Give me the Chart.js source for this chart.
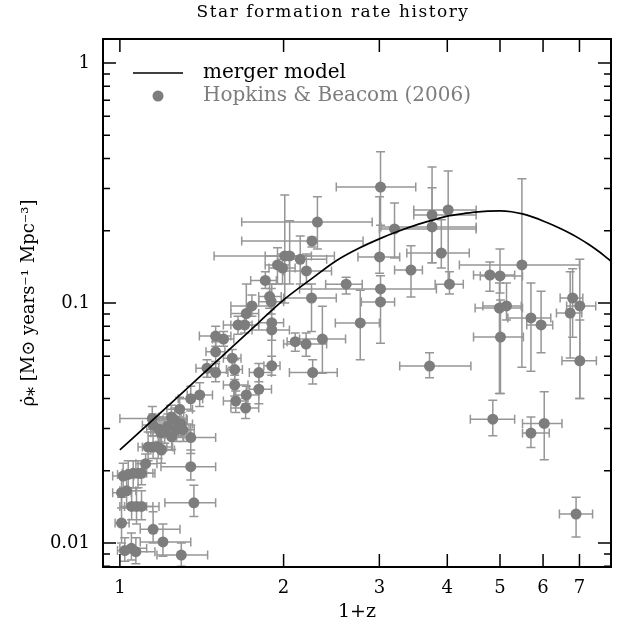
<!DOCTYPE html>
<html><head><meta charset="utf-8">
<script src="https://cdn.jsdelivr.net/npm/chart.js@4.4.1/dist/chart.umd.min.js"></script>
<style>html,body{margin:0;padding:0;background:#fff}</style>
</head><body>
<canvas id="c" width="627" height="631"></canvas>
<script>
// ---- model curve (merger model) ----
const modelX = [1, 1.2, 1.4, 1.6, 1.8, 2.0, 2.25, 2.5, 2.75, 3.0, 3.25, 3.5, 3.75, 4.0, 4.25, 4.5, 4.75, 5.0,
  5.25, 5.5, 5.75, 6.0, 6.25, 6.5, 6.75, 7.0, 7.25, 7.5, 7.75, 8.0];
const modelY = [0.0244, 0.0356, 0.0491, 0.0649, 0.0829, 0.103, 0.126, 0.150, 0.169, 0.185, 0.199, 0.211, 0.221, 0.230, 0.235, 0.239, 0.2412, 0.242,
  0.2400, 0.2350, 0.2278, 0.2197, 0.2114, 0.2028, 0.1942, 0.1854, 0.1765, 0.1675, 0.1584, 0.1491];

// ---- Hopkins & Beacom (2006) compilation: 1+z, SFR density, and error ranges ----
const z1 = [1.007,1.021,1.05,1.07,1.151,1.20,1.297,1.368,1.35,1.35,
  1.007,1.029,1.051,1.073,1.096,1.014,1.036,1.058,1.080,1.096,
  1.115,1.127,1.151,1.176,1.192,1.147,1.15,1.18,1.19,1.209,
  1.245,1.225,1.261,1.244,1.272,1.296,1.306,1.288,1.35,1.402,
  1.446,1.500,1.500,1.609,1.626,1.626,1.708,1.633,1.703,1.500,
  1.551,1.649,1.696,1.708,1.749,1.801,1.801,1.902,1.902,1.902,
  2.101,1.898,1.885,1.851,1.949,1.991,2.01,2.052,2.146,2.203,
  2.308,2.255,2.200,2.251,2.357,2.262,2.607,2.767,3.015,3.003,
  3.015,3.015,3.199,3.43,3.75,3.75,4.015,3.90,4.037,3.71,
  4.79,5.0,5.486,4.988,5.14,5.01,5.70,5.95,6.80,7.01,
  6.73,7.01,4.85,5.70,6.03,6.90];
const sfr = [0.0121,0.0093,0.0095,0.0092,0.0114,0.0101,0.0089,0.0147,0.0208,0.0275,
  0.0162,0.0165,0.0142,0.0142,0.0142,0.0190,0.0193,0.0195,0.0195,0.0195,
  0.0214,0.0251,0.0251,0.0251,0.0244,0.0330,0.0310,0.0298,0.0288,0.0291,
  0.0277,0.0307,0.0326,0.0335,0.0296,0.0313,0.0296,0.0361,0.0399,0.0414,
  0.0535,0.0513,0.0626,0.0589,0.0528,0.0455,0.0414,0.0390,0.0365,0.0728,
  0.0707,0.0810,0.0810,0.0904,0.0972,0.0513,0.0437,0.0827,0.0772,0.0547,
  0.0690,0.1013,0.1064,0.1242,0.1440,0.1399,0.1570,0.1570,0.1520,0.1360,
  0.2173,0.1812,0.0674,0.1049,0.0707,0.0513,0.1198,0.0826,0.3041,0.1555,
  0.1144,0.1010,0.2034,0.1372,0.2326,0.2075,0.2441,0.1615,0.1198,0.0546,
  0.1308,0.1297,0.1440,0.0953,0.0972,0.0721,0.0866,0.0810,0.1049,0.0972,
  0.0908,0.0574,0.0328,0.0287,0.0315,0.0132];
const xLo = [0.98,0.99,1.0,1.02,1.09,1.09,1.17,1.21,1.19,1.19,
  0.97,1.00,1.00,1.02,1.04,0.97,0.99,1.01,1.03,1.05,
  1.07,1.08,1.10,1.12,1.14,1.00,1.10,1.12,1.14,1.15,
  1.18,1.17,1.20,1.18,1.21,1.23,1.24,1.22,1.28,1.33,
  1.38,1.45,1.44,1.55,1.57,1.55,1.62,1.55,1.60,1.40,
  1.48,1.55,1.60,1.60,1.60,1.73,1.73,1.80,1.75,1.84,
  2.03,1.80,1.80,1.74,1.85,1.88,1.85,1.49,1.95,2.00,
  1.675,1.675,2.00,2.00,2.14,2.05,2.39,2.49,2.50,2.74,
  2.14,2.78,3.00,3.20,3.47,3.02,3.47,3.37,3.80,3.27,
  4.47,4.60,4.21,4.50,4.65,4.47,5.17,5.60,6.45,6.63,
  6.35,6.50,4.41,5.50,5.50,6.43];
const xHi = [1.04,1.07,1.12,1.16,1.29,1.35,1.45,1.50,1.50,1.50,
  1.05,1.07,1.12,1.15,1.18,1.06,1.09,1.12,1.15,1.16,
  1.17,1.20,1.22,1.25,1.26,1.325,1.22,1.25,1.25,1.28,
  1.31,1.29,1.33,1.31,1.34,1.36,1.37,1.36,1.42,1.48,
  1.52,1.58,1.56,1.67,1.68,1.72,1.80,1.72,1.80,1.60,
  1.62,1.75,1.80,1.80,1.92,1.90,1.90,2.00,2.05,1.97,
  2.20,2.00,1.98,1.94,2.05,2.10,2.25,2.48,2.40,2.45,
  2.91,2.80,2.40,2.50,2.60,2.51,2.79,3.00,3.50,3.27,
  3.82,3.20,4.52,3.60,4.52,4.52,4.52,4.39,4.28,4.42,
  5.32,5.50,7.00,5.50,5.47,5.52,6.20,6.25,7.10,7.50,
  7.07,7.52,5.32,6.16,6.50,7.40];
const yLo = [0.0100,0.0084,0.0085,0.0082,0.0100,0.0088,0.0080,0.0129,0.0183,0.0236,
  0.0140,0.0140,0.0125,0.0120,0.0125,0.0165,0.0170,0.0170,0.0170,0.0175,
  0.0195,0.0220,0.0225,0.0225,0.0215,0.0290,0.0280,0.0265,0.0255,0.0260,
  0.0245,0.0275,0.0290,0.0300,0.0265,0.0280,0.0265,0.0320,0.0355,0.0370,
  0.0490,0.0470,0.0570,0.0540,0.0480,0.0410,0.0380,0.0350,0.0330,0.0660,
  0.0660,0.0740,0.0750,0.0830,0.0880,0.0470,0.0380,0.0560,0.0700,0.0500,
  0.0630,0.0900,0.0950,0.1150,0.1200,0.1200,0.1000,0.1200,0.1200,0.1200,
  0.1680,0.1710,0.0600,0.0760,0.0510,0.0460,0.1090,0.0580,0.2110,0.1330,
  0.1000,0.0680,0.1540,0.1060,0.1470,0.1470,0.1190,0.1400,0.1090,0.0488,
  0.1120,0.1100,0.0540,0.0420,0.0850,0.0420,0.0520,0.0620,0.0720,0.0400,
  0.0590,0.0400,0.0280,0.0250,0.0222,0.0106];
const yHi = [0.0155,0.0105,0.0110,0.0105,0.0135,0.0120,0.0100,0.0174,0.0244,0.0310,
  0.0190,0.0195,0.0165,0.0170,0.0165,0.0215,0.0220,0.0220,0.0220,0.0215,
  0.0235,0.0290,0.0280,0.0280,0.0275,0.0370,0.0345,0.0335,0.0325,0.0330,
  0.0315,0.0345,0.0365,0.0375,0.0330,0.0350,0.0330,0.0405,0.0450,0.0465,
  0.0580,0.0560,0.0690,0.0640,0.0580,0.0500,0.0450,0.0430,0.0400,0.0800,
  0.0760,0.0880,0.0880,0.1200,0.1080,0.0560,0.0500,0.1200,0.0850,0.0600,
  0.0750,0.1150,0.1200,0.1350,0.1700,0.1600,0.2820,0.2200,0.1900,0.1600,
  0.2770,0.1880,0.0750,0.1200,0.0970,0.0580,0.1280,0.1130,0.4270,0.2770,
  0.1300,0.1130,0.2610,0.1730,0.3690,0.3020,0.3550,0.2220,0.1350,0.0620,
  0.1480,0.1680,0.3290,0.1210,0.1210,0.1030,0.1210,0.1120,0.1390,0.1520,
  0.1350,0.0850,0.0393,0.0335,0.0427,0.0155];

// ---- axes ----
const xMin = 0.931, xMax = 8.0, yMin = 0.00794, yMax = 1.259;
const xTickVals = [1,2,3,4,5,6,7];
const xTickLabels = ['1','2','3','4','5','6','7'];
const yTickVals = [0.01,0.1,1];
const yTickLabels = ['0.01','0.1','1'];
const titleText = 'Star formation rate history';
const xTitle = '1+z';
const yTitle = 'ρ̇⁎ [M⊙ years⁻¹ Mpc⁻³]';
const modelLabel = 'merger model';
const dataLabel = 'Hopkins & Beacom (2006)';

const SERIF = "'DejaVu Serif', serif";
const GREY = 'rgb(125,125,125)';
const BAR = 'rgb(150,150,150)';

const errorBars = {
  id: 'errorBars',
  beforeDatasetsDraw(chart) {
    const {ctx, chartArea: a, scales: {x, y}} = chart;
    ctx.save();
    ctx.beginPath(); ctx.rect(a.left, a.top, a.width, a.height); ctx.clip();
    ctx.strokeStyle = BAR; ctx.lineWidth = 1.5;
    const cap = 4.5;
    for (let i = 0; i < z1.length; i++) {
      const px = x.getPixelForValue(z1[i]), py = y.getPixelForValue(sfr[i]);
      const xl = x.getPixelForValue(xLo[i]), xh = x.getPixelForValue(xHi[i]);
      const yl = y.getPixelForValue(yLo[i]), yh = y.getPixelForValue(yHi[i]);
      ctx.beginPath();
      ctx.moveTo(xl, py); ctx.lineTo(xh, py);
      ctx.moveTo(xl, py - cap); ctx.lineTo(xl, py + cap);
      ctx.moveTo(xh, py - cap); ctx.lineTo(xh, py + cap);
      ctx.moveTo(px, yl); ctx.lineTo(px, yh);
      ctx.moveTo(px - cap, yl); ctx.lineTo(px + cap, yl);
      ctx.moveTo(px - cap, yh); ctx.lineTo(px + cap, yh);
      ctx.stroke();
    }
    ctx.restore();
  }
};

const frame = {
  id: 'frame',
  afterDraw(chart) {
    const {ctx, chartArea: a, scales: {x, y}} = chart;
    ctx.save();
    ctx.strokeStyle = '#000';
    ctx.lineWidth = 1.5;
    ctx.beginPath();
    const L = 13, S = 7;
    xTickVals.forEach(v => {
      const p = x.getPixelForValue(v);
      ctx.moveTo(p, a.bottom); ctx.lineTo(p, a.bottom - L);
      ctx.moveTo(p, a.top); ctx.lineTo(p, a.top + L);
    });
    for (let d = -3; d <= 0; d++) {
      for (let m = 1; m <= 9; m++) {
        const v = m * Math.pow(10, d);
        if (v < yMin || v > yMax) continue;
        const p = y.getPixelForValue(v);
        const len = m === 1 ? L : S;
        ctx.moveTo(a.left, p); ctx.lineTo(a.left + len, p);
        ctx.moveTo(a.right, p); ctx.lineTo(a.right - len, p);
      }
    }
    ctx.stroke();
    ctx.lineWidth = 2;
    ctx.strokeRect(a.left, a.top, a.width, a.height);
    // title
    ctx.fillStyle = '#000';
    ctx.font = '17px ' + SERIF;
    ctx.letterSpacing = '1.5px';
    ctx.textAlign = 'center'; ctx.textBaseline = 'middle';
    ctx.fillText(titleText, 333, 13);
    ctx.letterSpacing = '0px';
    // legend
    const ds = chart.data.datasets;
    ctx.textAlign = 'left';
    ctx.font = '20px ' + SERIF;
    ctx.lineWidth = 1.6;
    ctx.strokeStyle = '#000';
    ctx.beginPath(); ctx.moveTo(133, 73); ctx.lineTo(183, 73); ctx.stroke();
    ctx.fillStyle = '#000';
    ctx.fillText(ds[0].label, 203, 73);
    ctx.fillStyle = GREY;
    ctx.beginPath(); ctx.arc(158, 96, 5.5, 0, Math.PI * 2); ctx.fill();
    ctx.fillText(ds[1].label, 203, 96);
    ctx.restore();
  }
};

new Chart(document.getElementById('c'), {
  type: 'scatter',
  data: {
    datasets: [
      {
        type: 'line', label: modelLabel,
        data: modelX.map((v, i) => ({x: v, y: modelY[i]})),
        borderColor: '#000', borderWidth: 1.7, pointRadius: 0,
        cubicInterpolationMode: 'monotone', fill: false, order: 0
      },
      {
        label: dataLabel,
        data: z1.map((v, i) => ({x: v, y: sfr[i]})),
        backgroundColor: GREY, borderWidth: 0, pointRadius: 5.5, order: 1
      }
    ]
  },
  options: {
    responsive: false, animation: false, devicePixelRatio: 1,
    layout: {padding: {top: 39, right: 16, left: 0, bottom: 0}},
    plugins: {legend: {display: false}, tooltip: {enabled: false}, title: {display: false}},
    scales: {
      x: {
        type: 'logarithmic', min: xMin, max: xMax,
        afterBuildTicks: s => { s.ticks = xTickVals.map(v => ({value: v})); },
        afterFit: s => { s.height = 64; },
        ticks: {callback: (v) => xTickLabels[xTickVals.indexOf(v)] ?? '', color: '#000',
          font: {family: SERIF, size: 18}, padding: 11, maxRotation: 0, autoSkip: false},
        grid: {display: false, drawTicks: false}, border: {display: false},
        title: {display: true, text: xTitle, color: '#000', font: {family: SERIF, size: 19}, padding: {top: 0, bottom: 8}}
      },
      y: {
        type: 'logarithmic', min: yMin, max: yMax,
        afterBuildTicks: s => { s.ticks = yTickVals.map(v => ({value: v})); },
        afterFit: s => { s.width = 103; },
        ticks: {callback: (v) => yTickLabels[yTickVals.indexOf(v)] ?? '', color: '#000',
          font: {family: SERIF, size: 18}, padding: 13, autoSkip: false},
        grid: {display: false, drawTicks: false}, border: {display: false},
        title: {display: true, text: yTitle, color: '#000', font: {family: SERIF, size: 18}, padding: {top: 19, bottom: 0}}
      }
    }
  },
  plugins: [errorBars, frame]
});
</script>
</body></html>
